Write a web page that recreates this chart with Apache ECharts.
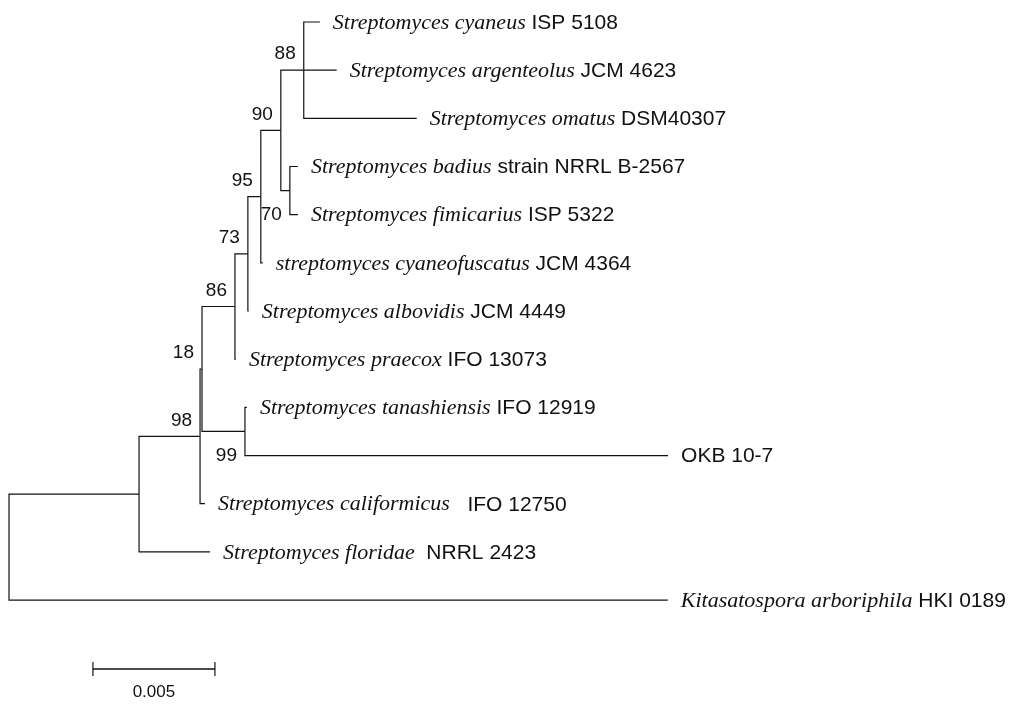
<!DOCTYPE html>
<html><head><meta charset="utf-8">
<script src="https://cdn.jsdelivr.net/npm/echarts@6/dist/echarts.min.js"></script>
<style>html,body{margin:0;padding:0;background:#fff}#c{width:1013px;height:706px}</style>
</head><body><div id="c"></div>
<script>
// Internal nodes of the tree: name, parent, branch length, bootstrap value
const nodeNames   = ['root', 'G', 'E', 'D', 'C', 'B', 'A', 'N90', 'N88', 'Nbf', 'F'];
const nodeParents = [null, 'root', 'G', 'E', 'D', 'C', 'B', 'A', 'N90', 'N90', 'D'];
const nodeLengths = [0, 0.00533, 0.0025, 0.00008, 0.00135, 0.00053, 0.00053, 0.00082, 0.00094, 0.00037, 0.00176];
const bootstrap   = [null, null, 98, 18, 86, 73, 95, 90, 88, 70, 99];

// Leaves (top to bottom)
const leafSpecies = ['Streptomyces cyaneus', 'Streptomyces argenteolus', 'Streptomyces omatus',
  'Streptomyces badius', 'Streptomyces fimicarius', 'streptomyces cyaneofuscatus',
  'Streptomyces albovidis', 'Streptomyces praecox', 'Streptomyces tanashiensis', '',
  'Streptomyces califormicus', 'Streptomyces floridae', 'Kitasatospora arboriphila'];
const leafStrains = ['ISP 5108', 'JCM 4623', 'DSM40307', 'strain NRRL B-2567', 'ISP 5322', 'JCM 4364',
  'JCM 4449', 'IFO 13073', 'IFO 12919', 'OKB 10-7', '  IFO 12750', ' NRRL 2423', 'HKI 0189'];
const leafParents = ['N88', 'N88', 'N88', 'Nbf', 'Nbf', 'A', 'B', 'C', 'F', 'F', 'E', 'G', 'root'];
const leafLengths = [0.00066, 0.00135, 0.00463, 0.00033, 0.00033, 0.00008, 0.00004, 0.00004, 0.00008, 0.01734, 0.0002, 0.00291, 0.0270];

// Scale bar
const scaleBarStart = 0.00344;
const scaleBarLength = 0.005;
const scaleBarLabel = '0.005';
const scaleBarRow = 13.43;

// ---- build tree geometry (data units) ----
const nodeX = {}, nodeY = {};
function depthOf(name) {
  if (name === 'root') return 0;
  const i = nodeNames.indexOf(name);
  return depthOf(nodeParents[i]) + nodeLengths[i];
}
nodeNames.forEach(n => { nodeX[n] = depthOf(n); });
const leafX = leafLengths.map((l, i) => nodeX[leafParents[i]] + l);
function yOf(name) {
  if (nodeY[name] !== undefined) return nodeY[name];
  const ys = [];
  leafParents.forEach((p, i) => { if (p === name) ys.push(i); });
  nodeNames.forEach((n, i) => { if (nodeParents[i] === name) ys.push(yOf(n)); });
  const y = (Math.min(...ys) + Math.max(...ys)) / 2;
  nodeY[name] = y;
  return y;
}
nodeNames.forEach(n => yOf(n));

const edges = [];
nodeNames.forEach((n, i) => {
  if (nodeParents[i]) edges.push([nodeX[nodeParents[i]], nodeX[n], nodeY[n], nodeY[nodeParents[i]]]);
});
leafParents.forEach((p, i) => { edges.push([nodeX[p], leafX[i], i, nodeY[p]]); });

const leafPoints = leafX.map((x, i) => [x, i]);
const bootIdx = [];
const bootPoints = [];
nodeNames.forEach((n, i) => { if (bootstrap[i] != null) { bootIdx.push(i); bootPoints.push([nodeX[n], nodeY[n]]); } });
const belowLabels = { 'F': true, 'Nbf': true };

const chart = echarts.init(document.getElementById('c'), null, { renderer: 'canvas' });
chart.setOption({
  animation: false,
  backgroundColor: '#fff',
  grid: { left: 9, top: 22, width: 976, bottom: 33.7 },
  xAxis: { type: 'value', min: 0, max: 0.04, show: false },
  yAxis: { type: 'value', min: 0, max: 13.5, inverse: true, show: false },
  series: [
    {
      type: 'custom', data: edges, encode: { x: [0, 1], y: [2, 3] }, clip: false,
      renderItem: (params, api) => {
        const p0 = api.coord([api.value(0), api.value(3)]);
        const p1 = api.coord([api.value(0), api.value(2)]);
        const p2 = api.coord([api.value(1), api.value(2)]);
        return { type: 'polyline', shape: { points: [p0, p1, p2] },
          style: { stroke: '#111', lineWidth: 1.2, fill: null } };
      }
    },
    {
      type: 'custom', data: leafPoints, encode: { x: 0, y: 1 }, clip: false,
      renderItem: (params, api) => {
        const i = params.dataIndex;
        const p = api.coord([api.value(0), api.value(1)]);
        const sp = leafSpecies[i];
        const txt = (sp ? '{i|' + sp + '}{s| ' + leafStrains[i] + '}' : '{s|' + leafStrains[i] + '}');
        return { type: 'text', x: p[0] + 13, y: p[1] + 1,
          style: { text: txt, align: 'left', verticalAlign: 'middle',
            rich: {
              i: { fontFamily: 'Liberation Serif', fontStyle: 'italic', fontSize: 22, fill: '#111' },
              s: { fontFamily: 'Liberation Sans', fontSize: 21, fill: '#111' }
            } } };
      }
    },
    {
      type: 'custom', data: bootPoints, encode: { x: 0, y: 1 }, clip: false,
      renderItem: (params, api) => {
        const ni = bootIdx[params.dataIndex];
        const p = api.coord([api.value(0), api.value(1)]);
        const below = belowLabels[nodeNames[ni]];
        return { type: 'text', x: p[0] - 8, y: p[1] + (below ? 24 : -16),
          style: { text: String(bootstrap[ni]), align: 'right', verticalAlign: 'middle',
            fontFamily: 'Liberation Sans', fontSize: 19, fill: '#111' } };
      }
    },
    {
      type: 'custom', data: [[scaleBarStart, scaleBarStart + scaleBarLength, scaleBarRow]],
      encode: { x: [0, 1], y: 2 }, clip: false,
      renderItem: (params, api) => {
        const a = api.coord([api.value(0), api.value(2)]);
        const b = api.coord([api.value(1), api.value(2)]);
        return { type: 'group', children: [
          { type: 'line', shape: { x1: a[0], y1: a[1], x2: b[0], y2: b[1] }, style: { stroke: '#111', lineWidth: 1.5 } },
          { type: 'line', shape: { x1: a[0], y1: a[1] - 7, x2: a[0], y2: a[1] + 7 }, style: { stroke: '#111', lineWidth: 1.2 } },
          { type: 'line', shape: { x1: b[0], y1: b[1] - 7, x2: b[0], y2: b[1] + 7 }, style: { stroke: '#111', lineWidth: 1.2 } },
          { type: 'text', x: (a[0] + b[0]) / 2, y: a[1] + 23,
            style: { text: scaleBarLabel, align: 'center', verticalAlign: 'middle',
              fontFamily: 'Liberation Sans', fontSize: 17, fill: '#111' } }
        ] };
      }
    }
  ]
});
</script>
</body></html>
